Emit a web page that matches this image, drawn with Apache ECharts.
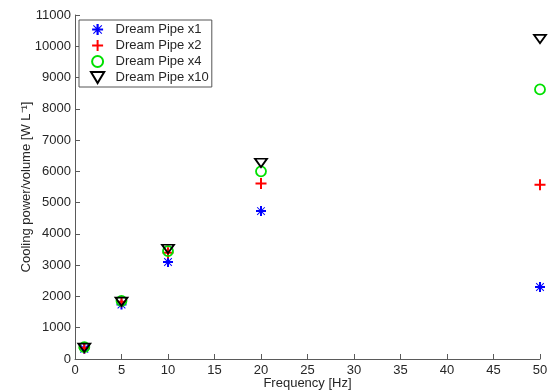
<!DOCTYPE html>
<html>
<head>
<meta charset="utf-8">
<script src="https://cdn.jsdelivr.net/npm/echarts@6/dist/echarts.min.js"></script>
<style>
  html, body { margin: 0; padding: 0; background: #fff; }
  #chart { width: 550px; height: 392px; }
</style>
</head>
<body>
<div id="chart"></div>
<script>
// frequencies [Hz]
const frequencies = [1, 5, 10, 20, 50];
const seriesNames = ['Dream Pipe x1', 'Dream Pipe x2', 'Dream Pipe x4', 'Dream Pipe x10'];
// cooling power/volume [W L^-1]
const pipeX1 = [330, 1740, 3100, 4730, 2300];
const pipeX2 = [350, 1830, 3400, 5610, 5570];
const pipeX4 = [380, 1860, 3450, 6000, 8620];
const pipeX10 = [360, 1830, 3520, 6270, 10230];

const pairs = (ys) => frequencies.map((f, i) => [f, ys[i]]);

const asterisk = 'path://M4,0H6V4H10V6H6V10H4V6H0V4H4Z' +
  'M1.5,0.8L9.2,8.5L8.5,9.2L0.8,1.5Z M8.5,0.8L9.2,1.5L1.5,9.2L0.8,8.5Z';
const plus = 'path://M4.1,0H5.9V4.1H10V5.9H5.9V10H4.1V5.9H0V4.1H4.1Z';
const triDown = 'path://M0,0H12L6,10Z';

const chart = echarts.init(document.getElementById('chart'));
const textColor = '#262626';
const axisColor = '#5a5a5a';

chart.setOption({
  animation: false,
  textStyle: { fontFamily: 'Liberation Sans, Arial, sans-serif' },
  grid: { left: 75, right: 10, top: 15, bottom: 33, outerBoundsMode: 'none', containLabel: false },
  legend: {
    data: seriesNames,
    orient: 'vertical',
    left: 79,
    top: 20,
    itemWidth: 26,
    itemHeight: 11,
    itemGap: 3,
    padding: [3, 3, 3, 11],
    borderColor: '#555',
    borderWidth: 1,
    borderRadius: 0,
    backgroundColor: '#fff',
    textStyle: { color: textColor, fontSize: 13 }
  },
  xAxis: {
    type: 'value',
    min: 0, max: 50, interval: 5,
    name: 'Frequency [Hz]',
    nameLocation: 'middle',
    nameGap: 18,
    nameMoveOverlap: false,
    nameTextStyle: { color: textColor, fontSize: 13 },
    splitLine: { show: false },
    axisLine: { lineStyle: { color: axisColor } },
    axisTick: { inside: true, length: 5, lineStyle: { color: axisColor } },
    axisLabel: { color: textColor, fontSize: 13, margin: 5 }
  },
  yAxis: {
    type: 'value',
    min: 0, max: 11000, interval: 1000,
    name: 'Cooling power/volume [W L⁻¹]',
    nameLocation: 'middle',
    nameGap: 42,
    nameMoveOverlap: false,
    nameTextStyle: { color: textColor, fontSize: 13 },
    splitLine: { show: false },
    axisLine: { show: true, lineStyle: { color: axisColor } },
    axisTick: { show: true, inside: true, length: 5, lineStyle: { color: axisColor } },
    axisLabel: { color: textColor, fontSize: 13, margin: 4, formatter: (v) => String(v) }
  },
  series: [
    {
      name: seriesNames[0], type: 'scatter',
      symbol: asterisk, symbolSize: 10, symbolKeepAspect: true,
      itemStyle: { color: '#0000ff', opacity: 1 },
      data: pairs(pipeX1)
    },
    {
      name: seriesNames[1], type: 'scatter',
      symbol: plus, symbolSize: 11, symbolKeepAspect: true,
      itemStyle: { color: '#ff0000', opacity: 1 },
      data: pairs(pipeX2)
    },
    {
      name: seriesNames[2], type: 'scatter',
      symbol: 'circle', symbolSize: 10,
      itemStyle: { color: 'rgba(0,0,0,0)', borderColor: '#00e000', borderWidth: 1.8, opacity: 1 },
      data: pairs(pipeX4)
    },
    {
      name: seriesNames[3], type: 'scatter',
      symbol: triDown, symbolSize: [12, 10], symbolKeepAspect: true,
      itemStyle: { color: 'rgba(0,0,0,0)', borderColor: '#000', borderWidth: 1.8, opacity: 1 },
      data: pairs(pipeX10)
    }
  ]
});
</script>
</body>
</html>
